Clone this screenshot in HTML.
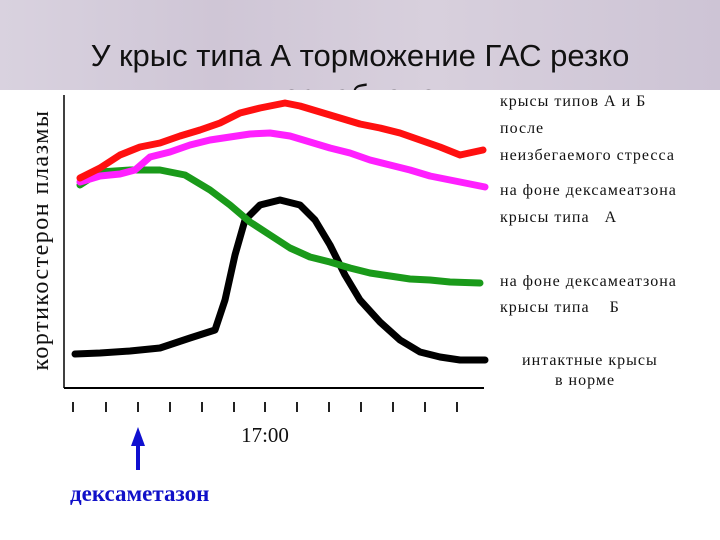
<!DOCTYPE html>
<html><head><meta charset="utf-8"><style>
body{margin:0;width:720px;height:540px;overflow:hidden;background:#fff;position:relative;font-family:"Liberation Serif",serif}
#bg{position:absolute;left:0;top:0;width:720px;height:90px;background:linear-gradient(90deg,#d9d2df,#cfc6d6 30%,#d8d0dd 60%,#cdc4d5);}
#title{position:absolute;left:0;top:36px;width:720px;text-align:center;font:31px/40px "Liberation Sans",sans-serif;color:#111}
#white{position:absolute;left:0;top:90px;width:720px;height:450px;background:#fff}
.t{position:absolute;font-size:16px;color:#111;white-space:pre;letter-spacing:1px}
</style></head><body>
<div id="bg"></div>
<div id="title">У крыс типа А торможение ГАС резко<br>ослаблено</div>
<div id="white"></div>
<svg width="720" height="540" style="position:absolute;left:0;top:0">
<g id="axes"></g><g id="series"></g>
<text x="0" y="0" transform="translate(48,240) rotate(-90)" text-anchor="middle" font-family="Liberation Serif,serif" font-size="24" letter-spacing="1.5" fill="#111">кортикостерон плазмы</text>
<text x="265" y="442" text-anchor="middle" font-family="Liberation Serif,serif" font-size="21" fill="#111">17:00</text>
<line x1="138" y1="470" x2="138" y2="440" stroke="#1010d0" stroke-width="4"/>
<polygon points="131,446 145,446 138,427" fill="#1010d0"/>
<text x="70" y="501" font-family="Liberation Serif,serif" font-size="23" font-weight="bold" fill="#1010c8">дексаметазон</text>
</svg>
<div class="t" style="left:500px;top:93px">крысы типов А и Б</div>
<div class="t" style="left:500px;top:120px">после</div>
<div class="t" style="left:500px;top:147px">неизбегаемого стресса</div>
<div class="t" style="left:500px;top:182px">на фоне дексамеатзона</div>
<div class="t" style="left:500px;top:209px">крысы типа   А</div>
<div class="t" style="left:500px;top:273px">на фоне дексамеатзона</div>
<div class="t" style="left:500px;top:299px">крысы типа    Б</div>
<div class="t" style="left:522px;top:352px">интактные крысы</div>
<div class="t" style="left:555px;top:372px">в норме</div>
<script>
const redT=[16,36,56,76,96,116,136,156,176,196,221,236,256,276,296,316,336,356,376,396,419];
const redV=[210,220,233,241,245,252,258,265,275,280,285,282,276,270,264,260,255,248,241,233,238];
const magT=[16,36,56,71,86,106,126,146,166,186,206,226,246,266,286,306,326,346,366,386,421];
const magV=[206,212,214,218,231,236,243,248,251,254,255,252,246,240,235,228,223,218,212,208,201];
const grnT=[16,36,66,96,121,146,166,186,206,226,246,266,286,306,326,346,366,386,416];
const grnV=[203,216,218,218,213,198,183,166,153,140,131,126,120,115,112,109,108,106,105];
const blkT=[11,36,66,96,126,151,161,171,181,196,216,236,251,266,281,296,316,336,356,376,396,421];
const blkV=[34,35,37,40,50,58,88,133,168,183,188,183,168,143,113,88,66,48,36,31,28,28];
const tickT=[9,42,74,106,138,170,201,233,265,297,329,361,393];
const xS=t=>64+t;
const yS=v=>388-v;
const NS='http://www.w3.org/2000/svg';
const ax=document.getElementById('axes');
function mk(tag,attrs,parent){const e=document.createElementNS(NS,tag);for(const k in attrs)e.setAttribute(k,attrs[k]);parent.appendChild(e);return e;}
let l=mk('line',{x1:xS(0),y1:yS(293),x2:xS(0),y2:yS(0),stroke:'#000','stroke-width':1.5},ax);


l=mk('line',{x1:xS(0),y1:yS(0),x2:xS(420),y2:yS(0),stroke:'#000','stroke-width':2},ax);


tickT.forEach(t=>{const k=mk('line',{x1:xS(t),y1:402,x2:xS(t),y2:412,stroke:'#222','stroke-width':2},ax);

});
const sg=document.getElementById('series');
function draw(T,V,c,name){const p=mk('polyline',{points:T.map((t,i)=>xS(t)+','+yS(V[i])).join(' '),fill:'none',stroke:c,'stroke-width':7,'stroke-linejoin':'round','stroke-linecap':'round'},sg);

}
draw(blkT,blkV,'#000','series-intact');
draw(grnT,grnV,'#1a9a1a','series-dex-type-b');
draw(magT,magV,'#ff20ff','series-dex-type-a');
draw(redT,redV,'#ff1010','series-stress');
</script>
</body></html>
